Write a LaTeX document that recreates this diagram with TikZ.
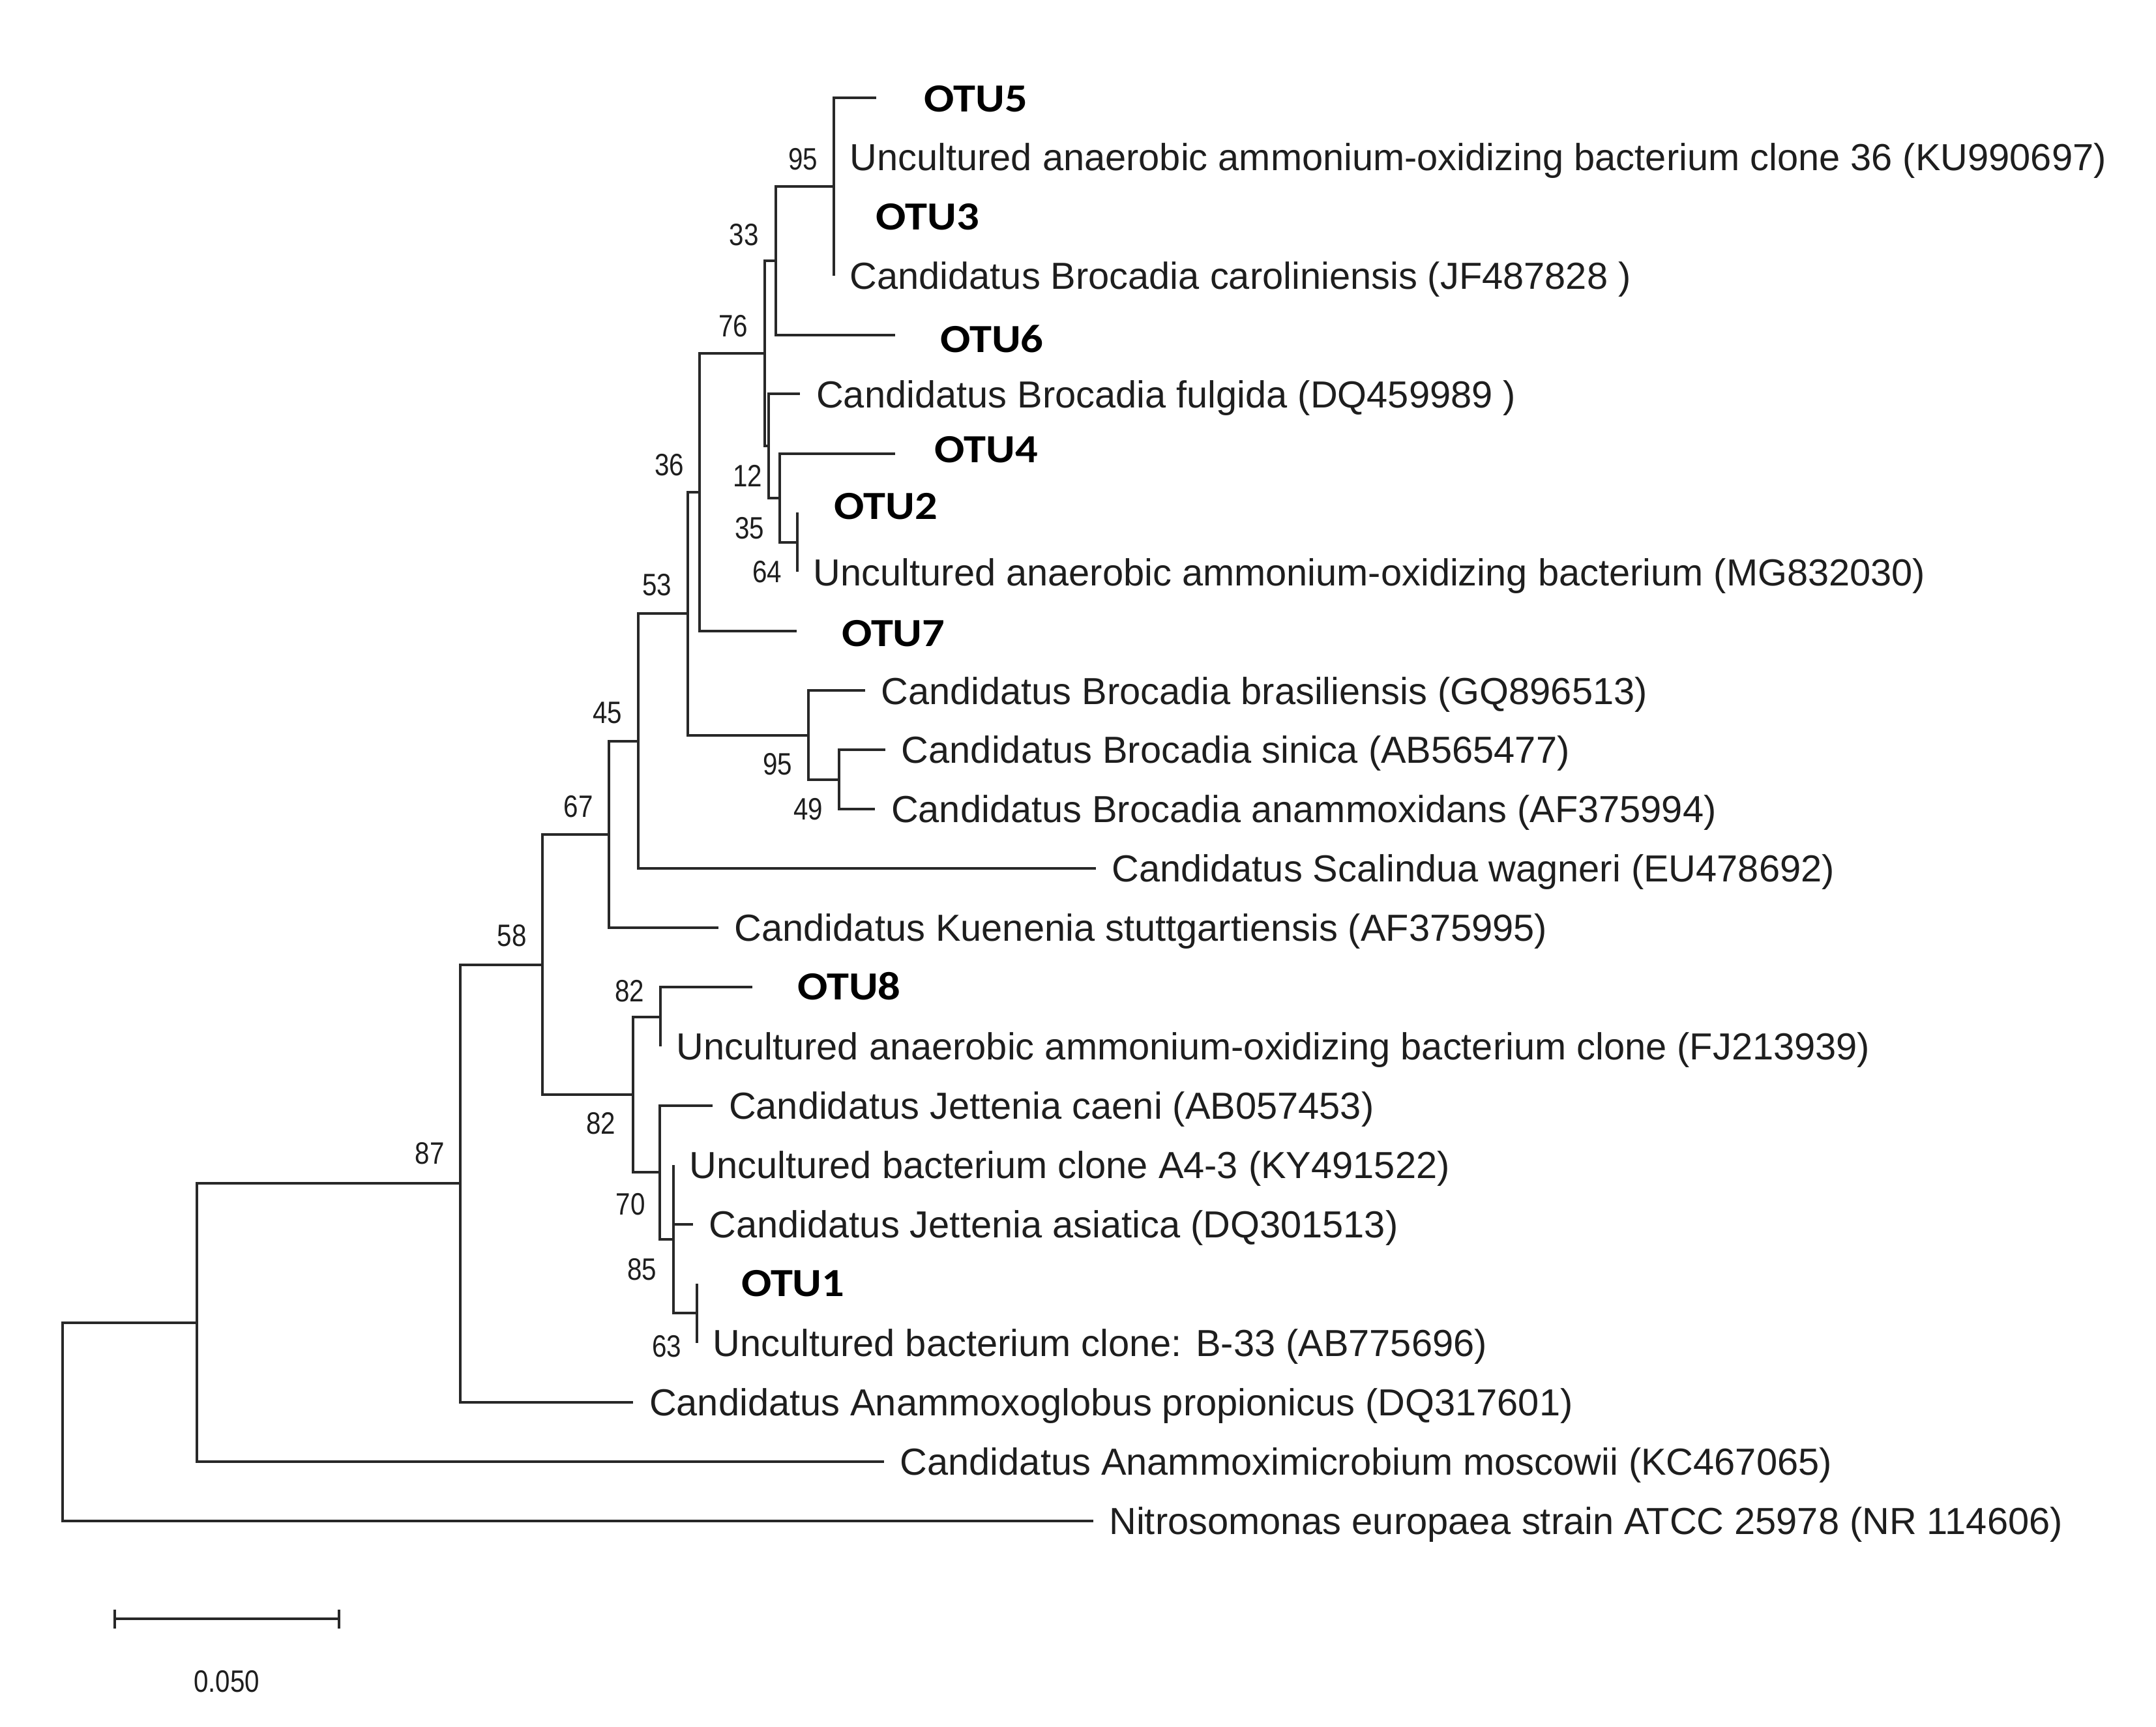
\documentclass[tikz,border=0pt]{standalone}
\usepackage{fontspec}
\setmainfont{Liberation Sans}
\newfontfamily\otufont[FakeStretch=1.12]{Carlito}
\newfontfamily\bsfont[FakeStretch=0.85]{Liberation Sans}
\definecolor{ink}{RGB}{30,30,30}
\definecolor{branchc}{RGB}{40,40,40}
\begin{document}
\begin{tikzpicture}[x=1pt,y=-1pt,
  br/.style={draw=branchc,line width=1.9pt},
  leaf/.style={anchor=base west,inner sep=0pt,xshift=11.5pt,yshift=-9.8pt,text=ink,font=\fontsize{27.4}{32}\selectfont},
  otu/.style={anchor=base west,inner sep=0pt,yshift=-9.2pt,text=black,font=\otufont\bfseries\fontsize{29}{34}\selectfont},
  bs/.style={anchor=center,inner sep=0pt,text=ink,font=\bsfont\fontsize{22.5}{26}\selectfont}]
\useasboundingbox (0,0) rectangle (1568,1256);
% internal nodes
\coordinate (R) at (45.5,1033.9);
\coordinate (N0) at (143,961.8);
\coordinate (N87) at (334.6,860.6);
\coordinate (N58) at (394.6,701.5);
\coordinate (N67) at (442.8,606.9);
\coordinate (N45) at (464,539);
\coordinate (N53) at (500,446.3);
\coordinate (N36) at (508.8,358);
\coordinate (N76) at (556.2,257);
\coordinate (N33) at (564.3,189.6);
\coordinate (N95) at (606.4,135.7);
\coordinate (N12) at (558.8,324.4);
\coordinate (N35) at (567.3,362.1);
\coordinate (N64) at (580,394.45);
\coordinate (NB) at (587.8,534.6);
\coordinate (N49) at (610,567);
\coordinate (N82b) at (460.2,796);
\coordinate (N82a) at (480.3,739.5);
\coordinate (N70) at (479.7,852.6);
\coordinate (N85) at (489.8,901.2);
\coordinate (N63) at (506.8,955.1);
% tips
\coordinate (T1) at (637.3,71);
\coordinate (T2) at (606.4,114.1);
\coordinate (T3) at (606.4,157.3);
\coordinate (T4) at (606.4,200.4);
\coordinate (T5) at (651,243.5);
\coordinate (T6) at (582,286.6);
\coordinate (T7) at (651,329.8);
\coordinate (T8) at (580,372.9);
\coordinate (T9) at (580,416);
\coordinate (T10) at (579.4,459.1);
\coordinate (T11) at (629,502.3);
\coordinate (T12) at (644,545.4);
\coordinate (T13) at (636.5,588.5);
\coordinate (T14) at (797,631.6);
\coordinate (T15) at (522.6,674.8);
\coordinate (T16) at (547,717.9);
\coordinate (T17) at (480.3,761);
\coordinate (T18) at (518.4,804.1);
\coordinate (T19) at (489.8,847.3);
\coordinate (T20) at (504,890.4);
\coordinate (T21) at (506.8,933.5);
\coordinate (T22) at (506.8,976.6);
\coordinate (T23) at (460.6,1019.8);
\coordinate (T24) at (643,1062.9);
\coordinate (T25) at (795,1106);
% branches
\draw[br] (R) |- (N0);   \draw[br] (R) |- (T25);
\draw[br] (N0) |- (N87); \draw[br] (N0) |- (T24);
\draw[br] (N87) |- (N58); \draw[br] (N87) |- (T23);
\draw[br] (N58) |- (N67); \draw[br] (N58) |- (N82b);
\draw[br] (N67) |- (N45); \draw[br] (N67) |- (T15);
\draw[br] (N45) |- (N53); \draw[br] (N45) |- (T14);
\draw[br] (N53) |- (N36); \draw[br] (N53) |- (NB);
\draw[br] (N36) |- (N76); \draw[br] (N36) |- (T10);
\draw[br] (N76) |- (N33); \draw[br] (N76) |- (N12);
\draw[br] (N33) |- (N95); \draw[br] (N33) |- (T5);
\draw[br] (N95) |- (T1); \draw[br] (N95) |- (T2); \draw[br] (N95) |- (T3); \draw[br] (N95) |- (T4);
\draw[br] (N12) |- (T6); \draw[br] (N12) |- (N35);
\draw[br] (N35) |- (T7); \draw[br] (N35) |- (N64);
\draw[br] (N64) |- (T8); \draw[br] (N64) |- (T9);
\draw[br] (NB) |- (T11); \draw[br] (NB) |- (N49);
\draw[br] (N49) |- (T12); \draw[br] (N49) |- (T13);
\draw[br] (N82b) |- (N82a); \draw[br] (N82b) |- (N70);
\draw[br] (N82a) |- (T16); \draw[br] (N82a) |- (T17);
\draw[br] (N70) |- (T18); \draw[br] (N70) |- (N85);
\draw[br] (N85) |- (T19); \draw[br] (N85) |- (T20); \draw[br] (N85) |- (N63);
\draw[br] (N63) |- (T21); \draw[br] (N63) |- (T22);
% leaf labels
\node[leaf] (L2) at (T2) {Uncultured anaerobic ammonium-oxidizing bacterium clone 36 (KU990697)};
\node[leaf] (L4) at (T4) {Candidatus Brocadia caroliniensis (JF487828 )};
\node[leaf] (L6) at (T6) {Candidatus Brocadia fulgida (DQ459989 )};
\node[leaf] (L9) at (T9) {Uncultured anaerobic ammonium-oxidizing bacterium (MG832030)};
\node[leaf] (L11) at (T11) {Candidatus Brocadia brasiliensis (GQ896513)};
\node[leaf] (L12) at (T12) {Candidatus Brocadia sinica (AB565477)};
\node[leaf] (L13) at (T13) {Candidatus Brocadia anammoxidans (AF375994)};
\node[leaf] (L14) at (T14) {Candidatus Scalindua wagneri (EU478692)};
\node[leaf] (L15) at (T15) {Candidatus Kuenenia stuttgartiensis (AF375995)};
\node[leaf] (L17) at (T17) {Uncultured anaerobic ammonium-oxidizing bacterium clone (FJ213939)};
\node[leaf] (L18) at (T18) {Candidatus Jettenia caeni (AB057453)};
\node[leaf] (L19) at (T19) {Uncultured bacterium clone A4-3 (KY491522)};
\node[leaf] (L20) at (T20) {Candidatus Jettenia asiatica (DQ301513)};
\node[leaf] (L22) at (T22) {Uncultured bacterium clone: B-33 (AB775696)};
\node[leaf] (L23) at (T23) {Candidatus Anammoxoglobus propionicus (DQ317601)};
\node[leaf] (L24) at (T24) {Candidatus Anammoximicrobium moscowii (KC467065)};
\node[leaf] (L25) at (T25) {Nitrosomonas europaea strain ATCC 25978 (NR 114606)};
% OTU labels
\node[otu] (O5) at (672,72) {OTU5};
\node[otu] (O3) at (637,158) {OTU3};
\node[otu] (O6) at (683.7,247) {OTU6};
\node[otu] (O4) at (679.5,327) {OTU4};
\node[otu] (O2) at (606.5,368.5) {OTU2};
\node[otu] (O7) at (612,461) {OTU7};
\node[otu] (O8) at (579.8,718) {OTU8};
\node[otu] (O1) at (539,933.6) {OTU1};
% bootstrap values
\node[bs] (b95a) at (584,116) {95};
\node[bs] (b33) at (541,170.7) {33};
\node[bs] (b76) at (533.4,237) {76};
\node[bs] (b36) at (486.9,338) {36};
\node[bs] (b12) at (543.8,346) {12};
\node[bs] (b35) at (545,384) {35};
\node[bs] (b64) at (557.8,415.8) {64};
\node[bs] (b53) at (477.8,425.2) {53};
\node[bs] (b45) at (441.8,518.4) {45};
\node[bs] (b95b) at (565.6,555.6) {95};
\node[bs] (b49) at (587.8,588.7) {49};
\node[bs] (b67) at (420.6,586.4) {67};
\node[bs] (b58) at (372.4,680.4) {58};
\node[bs] (b82a) at (458,720.7) {82};
\node[bs] (b82b) at (436.9,817.2) {82};
\node[bs] (b87) at (312.5,839) {87};
\node[bs] (b70) at (458.5,875.6) {70};
\node[bs] (b85) at (467,923) {85};
\node[bs] (b63) at (485,979) {63};
% scale bar
\coordinate (S1) at (83.4,1177.5);
\coordinate (S2) at (246.4,1177.5);
\draw[br] (S1) -- (S2);
\draw[br] ([yshift=7pt]S1) -- ([yshift=-7pt]S1);
\draw[br] ([yshift=7pt]S2) -- ([yshift=-7pt]S2);
\node[bs] (SL) at (164.8,1223) {0.050};
\end{tikzpicture}
\end{document}
